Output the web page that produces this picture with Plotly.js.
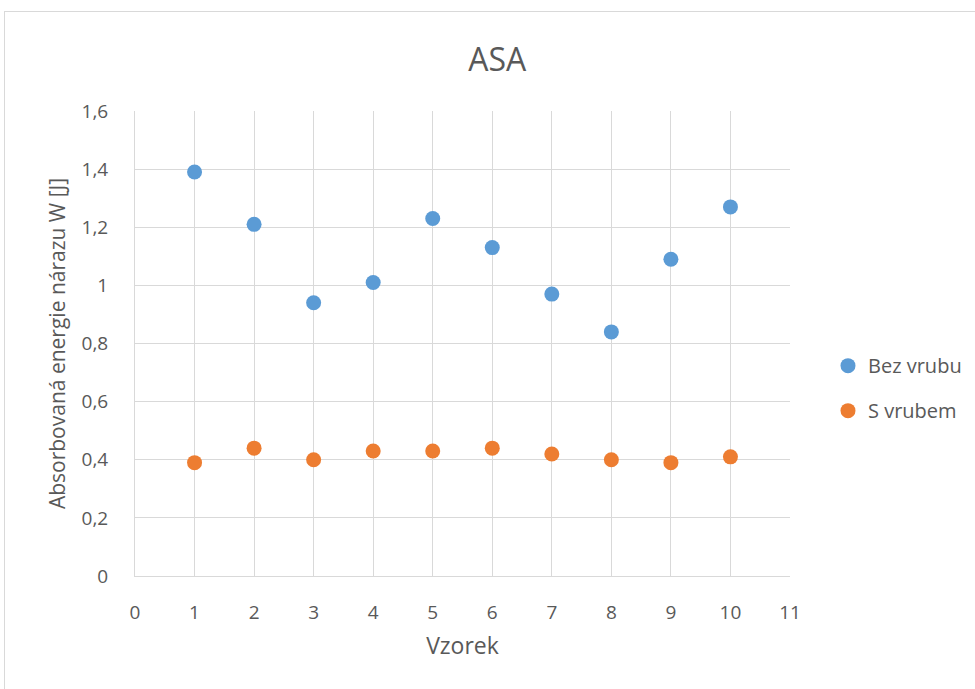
<!DOCTYPE html>
<html>
<head>
<meta charset="utf-8">
<script src="https://cdn.plot.ly/plotly-3.0.1.min.js"></script>
<style>
  html, body { margin: 0; padding: 0; background: #fff; overflow: hidden; }
  #chart { width: 975px; height: 689px; }
  #frame { position: absolute; left: 4px; top: 11px; width: 1000px; height: 700px;
           border: 1px solid #d9d9d9; pointer-events: none; }
</style>
</head>
<body>
<div id="chart"></div>
<div id="frame"></div>
<script>
// Sample numbers (Vzorek)
const vzorek = [1, 2, 3, 4, 5, 6, 7, 8, 9, 10];
// Absorbed impact energy W [J]
const bezVrubu = [1.39, 1.21, 0.94, 1.01, 1.23, 1.13, 0.97, 0.84, 1.09, 1.27];
const sVrubem  = [0.39, 0.44, 0.40, 0.43, 0.43, 0.44, 0.42, 0.40, 0.39, 0.41];
const seriesNames = ['Bez vrubu', 'S vrubem'];

const font = 'Open Sans, Noto Sans, sans-serif';
const textColor = '#595959';

const traces = [
  { x: vzorek, y: bezVrubu, name: seriesNames[0], legendgroup: 'a', type: 'scatter', mode: 'markers',
    marker: { color: '#5b9bd5', size: 15 } },
  { x: vzorek, y: sVrubem, name: seriesNames[1], legendgroup: 'b', type: 'scatter', mode: 'markers',
    marker: { color: '#ed7d31', size: 15 } }
];

const layout = {
  width: 975, height: 689,
  margin: { l: 135, r: 185, t: 111, b: 113, autoexpand: false },
  paper_bgcolor: '#fff', plot_bgcolor: '#fff',
  separators: ', ',
  font: { family: font, color: textColor, size: 19 },
  title: { text: 'ASA', x: 0.51, xanchor: 'center', y: 0.913, yanchor: 'middle',
           font: { size: 32, color: textColor, family: font } },
  xaxis: {
    range: [0, 11], dtick: 1, tick0: 0,
    showgrid: true, gridcolor: '#d9d9d9', gridwidth: 1,
    zeroline: false, showline: true, linecolor: '#d9d9d9', linewidth: 1,
    ticks: '', ticklabelstandoff: 19,
    tickfont: { size: 19, color: textColor },
    title: { text: 'Vzorek', font: { size: 23, color: textColor }, standoff: 14 }
  },
  yaxis: {
    range: [0, 1.6], dtick: 0.2, tick0: 0,
    showgrid: true, gridcolor: '#d9d9d9', gridwidth: 1,
    zeroline: false, showline: true, linecolor: '#d9d9d9', linewidth: 1,
    ticks: '', ticklabelstandoff: 22,
    tickfont: { size: 19, color: textColor },
    title: { text: 'Absorbovaná energie nárazu W [J]', font: { size: 21, color: textColor }, standoff: 10 }
  },
  showlegend: true,
  legend: {
    x: 1.058, xanchor: 'left', y: 0.404, yanchor: 'middle',
    font: { size: 20, color: textColor },
    traceorder: 'grouped', tracegroupgap: 16,
    bgcolor: 'rgba(0,0,0,0)'
  }
};

Plotly.newPlot('chart', traces, layout, { displayModeBar: false, staticPlot: true });
</script>
</body>
</html>
